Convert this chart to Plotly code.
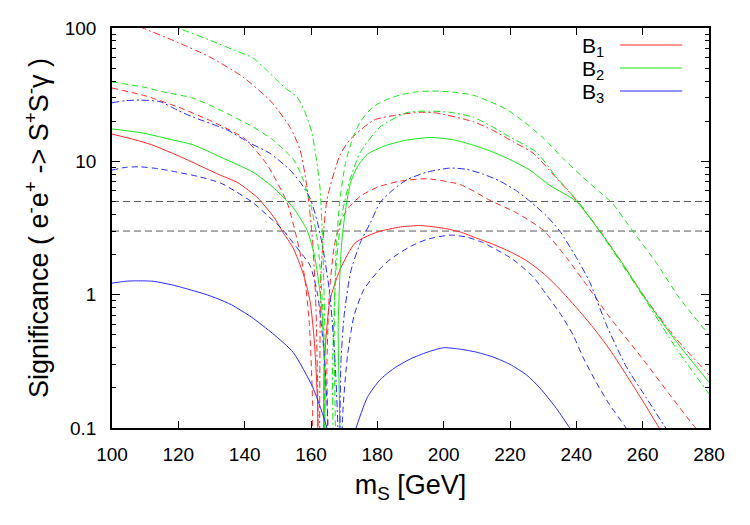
import plotly.graph_objects as go

# ---------------- data ----------------
thresholds = [5, 3]
x_range = [100, 280]

# B1 (red)
x_b1_solid = [100, 107, 112, 120, 126, 132, 138, 144, 149, 151.3, 154.6, 157.6, 159.7, 161, 162, 162.6, 163.2, 164, 165.7, 168.7, 173.3, 180, 187, 193, 200, 205, 210, 215, 220, 225, 230, 235, 240, 245, 250, 256, 260, 265, 270]
y_b1_solid = [16, 14.5, 13.3, 11, 9.4, 8.0, 6.9, 5.3, 3.75, 3.0, 2.24, 1.45, 0.9, 0.45, 0.15, 0.01, 0.01, 0.3, 0.9, 1.53, 2.44, 2.95, 3.22, 3.3, 3.15, 2.95, 2.65, 2.38, 2.1, 1.8, 1.45, 1.1, 0.8, 0.57, 0.39, 0.23, 0.16, 0.1, 0.065]

x_b1_dash = [100, 110, 120, 130, 140, 146.7, 152.8, 155.8, 158, 159.5, 160.5, 161, 164.3, 164.8, 165.5, 167, 169, 171.7, 175, 180, 186.8, 195, 205, 214, 222, 230, 237, 244, 250, 260, 268, 276, 280]
y_b1_dash = [35.5, 31, 25.5, 20, 14.8, 9.5, 4.9, 2.6, 1.4, 0.6, 0.15, 0.01, 0.01, 0.3, 1.0, 2.3, 3.6, 4.6, 5.5, 6.4, 7.1, 7.4, 6.7, 5.1, 4.1, 3.05, 1.9, 1.1, 0.68, 0.33, 0.18, 0.1, 0.08]

x_b1_dashdot = [100, 109.3, 119.6, 129.5, 139.5, 148, 153.7, 156.7, 158.8, 160.5, 161.5, 162, 162.5, 163, 164.8, 168.7, 171.7, 179, 187, 193, 198, 209, 215, 221, 227, 234, 240, 247, 254, 261, 270, 280]
y_b1_dashdot = [125, 100, 78.5, 60.6, 42.9, 28, 18, 12.2, 6.4, 2.5, 0.8, 0.2, 0.01, 1.4, 5.1, 11.1, 14.5, 20.4, 22.5, 23.3, 23, 19.8, 17, 14, 11.5, 7.5, 5.1, 3.05, 1.7, 0.93, 0.47, 0.25]

# B2 (green)
x_b2_solid = [100, 109.3, 116.6, 124.4, 132.6, 142.5, 148.5, 154.6, 158.8, 161, 163, 164.3, 164.8, 167.8, 168.2, 169, 169.6, 170.8, 172, 174, 177, 182, 188, 196, 203, 209, 215, 220, 226, 232, 240, 247, 254, 261, 270, 280]
y_b2_solid = [17.5, 16.3, 14.8, 13.3, 10.8, 8.3, 6.4, 4.5, 3.05, 2.0, 0.9, 0.25, 0.01, 0.01, 0.6, 2.0, 3.0, 5.0, 7.0, 9.1, 11.3, 13.0, 14.3, 15.1, 14.5, 13.2, 11.7, 10.3, 8.6, 6.6, 5.0, 3.0, 1.7, 0.92, 0.45, 0.22]

x_b2_dash = [100, 109.3, 116, 124.4, 132.6, 142.5, 148.5, 154.6, 157, 159.7, 162, 163.5, 164.2, 164.5, 166.5, 167, 167.5, 168.7, 170.5, 172.7, 175, 178.7, 182, 186.8, 191, 196, 202, 208.8, 214, 219, 224, 230, 236, 242, 247, 251, 257, 264, 271, 280]
y_b2_dash = [39.4, 36.1, 33, 29.8, 24.3, 18.1, 14.5, 10.4, 8.0, 5.0, 2.5, 0.8, 0.1, 0.01, 0.01, 0.5, 2, 5.1, 10, 15.2, 20, 25.6, 28.5, 31.4, 33, 33.7, 33.2, 31.4, 28, 24.5, 20, 15, 10.5, 7.6, 5.9, 4.8, 3.0, 1.75, 0.95, 0.5]

x_b2_dashdot = [100, 110, 119.9, 129.5, 137, 142.5, 146, 149.7, 152.5, 155.8, 158, 160.3, 162.7, 163.5, 164.2, 164.5, 166, 166.5, 167.5, 169, 171.7, 174.8, 180.8, 188.9, 195.9, 202, 208.8, 215, 220, 228, 234, 240.5, 247, 254, 261, 270, 280]
y_b2_dashdot = [150, 122, 100, 81, 68, 59.6, 50, 40.7, 35, 30.4, 24, 16.3, 6.4, 2.5, 0.5, 0.01, 0.01, 0.3, 1.5, 3.6, 7.2, 11.6, 18.1, 23.2, 23.8, 23.3, 21.5, 18, 15.2, 11.7, 7.6, 5.0, 3.0, 1.65, 0.9, 0.4, 0.18]

# B3 (blue)
x_b3_solid = [100, 104, 107.5, 112.4, 118.4, 124, 128, 132, 136, 142, 148.5, 154.6, 160.6, 164.8, 166.5, 168, 170, 172, 173.6, 177, 180.8, 185, 190, 195, 200, 205, 210, 215, 220, 225, 229, 234, 238, 242]
y_b3_solid = [1.22, 1.26, 1.27, 1.26, 1.18, 1.08, 1.01, 0.93, 0.84, 0.68, 0.51, 0.37, 0.2, 0.1, 0.05, 0.01, 0.03, 0.07, 0.1, 0.17, 0.23, 0.28, 0.33, 0.37, 0.4, 0.39, 0.37, 0.34, 0.3, 0.25, 0.2, 0.14, 0.1, 0.07]

x_b3_dash = [100, 104, 108.4, 114, 119.6, 126, 132.6, 137, 142.5, 147, 151.3, 156.7, 159.7, 162, 164, 165, 165.8, 168.5, 169.5, 171, 173, 176, 181, 184, 190, 195, 202, 207, 212, 217, 220, 222, 227, 231, 235, 239, 242, 246, 250, 255, 260]
y_b3_dash = [8.6, 9.0, 9.1, 8.8, 8.3, 7.7, 6.9, 6.0, 4.9, 3.9, 3.1, 2.1, 1.66, 1.0, 0.35, 0.12, 0.01, 0.01, 0.12, 0.35, 0.7, 1.1, 1.58, 1.85, 2.3, 2.6, 2.8, 2.7, 2.45, 2.1, 1.9, 1.75, 1.36, 1.0, 0.73, 0.5, 0.34, 0.22, 0.15, 0.1, 0.065]

x_b3_dashdot = [100, 104, 108.4, 114.5, 120, 124.4, 134.7, 141.6, 147.6, 153.7, 156.7, 159.7, 161.8, 163.5, 165.7, 167.3, 168.1, 168.4, 169, 170, 172, 175, 178, 180.8, 185, 189, 195, 202, 207, 212, 217, 222, 226.5, 231, 235, 240, 244, 249, 255, 261, 267, 272]
y_b3_dashdot = [27.5, 28.5, 28.8, 28, 24, 21.5, 17.2, 13.7, 11.5, 8.6, 7.0, 5.3, 3.6, 2.3, 1.0, 0.3, 0.1, 0.01, 0.3, 0.7, 1.5, 2.5, 3.5, 4.9, 6.2, 7.3, 8.3, 8.9, 8.7, 8.0, 7.1, 6.0, 4.9, 3.9, 3.0, 1.9, 1.25, 0.6, 0.29, 0.17, 0.1, 0.07]

legend_labels = ["B<sub>1</sub>", "B<sub>2</sub>", "B<sub>3</sub>"]
y_tick_vals = [0.1, 1, 10, 100]
y_tick_text = ["0.1", "1", "10", "100"]
x_tick_vals = [100, 120, 140, 160, 180, 200, 220, 240, 260, 280]

# ---------------- styles ----------------
RED = "rgb(255,40,40)"
GREEN = "rgb(20,230,20)"
BLUE = "rgb(40,40,255)"
FONT = "Liberation Sans, Arial, sans-serif"

curves = [
    (x_b1_solid, y_b1_solid, RED, "solid"),
    (x_b1_dash, y_b1_dash, RED, "6px,4px"),
    (x_b1_dashdot, y_b1_dashdot, RED, "7px,3px,2px,3px"),
    (x_b2_solid, y_b2_solid, GREEN, "solid"),
    (x_b2_dash, y_b2_dash, GREEN, "6px,4px"),
    (x_b2_dashdot, y_b2_dashdot, GREEN, "7px,3px,2px,3px"),
    (x_b3_solid, y_b3_solid, BLUE, "solid"),
    (x_b3_dash, y_b3_dash, BLUE, "6px,4px"),
    (x_b3_dashdot, y_b3_dashdot, BLUE, "7px,3px,2px,3px"),
]

fig = go.Figure()

for t in thresholds:
    fig.add_trace(go.Scatter(x=x_range, y=[t, t], mode="lines",
                             line=dict(color="rgb(90,90,90)", width=1, dash="7px,4px"),
                             showlegend=False, hoverinfo="skip"))

for xs, ys, col, dash in curves:
    fig.add_trace(go.Scatter(x=xs, y=ys, mode="lines",
                             line=dict(color=col, width=1, dash=dash, shape="spline", smoothing=0.6),
                             showlegend=False))

# custom gnuplot-like key (text left of sample line)
key_colors = [RED, GREEN, BLUE]
key_y = [0.9575, 0.90, 0.8425]
for lab, col, yy in zip(legend_labels, key_colors, key_y):
    fig.add_annotation(x=0.827, y=yy - 0.006, xref="paper", yref="paper",
                       text=lab, showarrow=False, xanchor="right", yanchor="middle",
                       font=dict(family=FONT, size=21, color="black"))
    fig.add_shape(type="line", xref="paper", yref="paper",
                  x0=0.851, x1=0.955, y0=yy, y1=yy,
                  line=dict(color=col, width=1))

axis_common = dict(showline=True, linecolor="black", linewidth=1.5, mirror="allticks",
                   ticks="inside", tickcolor="black", showgrid=False, zeroline=False,
                   tickfont=dict(family=FONT, size=19, color="black"))

fig.update_xaxes(range=x_range, tickvals=x_tick_vals, ticklen=7, tickwidth=1,
                 ticklabelstandoff=8,
                 title=dict(text="m<sub>S</sub> [GeV]", font=dict(family=FONT, size=27, color="black"),
                            standoff=12),
                 **axis_common)
fig.update_yaxes(type="log", range=[-1, 2], tickvals=y_tick_vals, ticktext=y_tick_text,
                 ticklen=8, tickwidth=1, ticklabelstandoff=10,
                 minor=dict(ticks="inside", ticklen=4, tickcolor="black",
                            tickvals=[m * d for d in [0.1, 1, 10] for m in range(2, 10)]),
                 title=dict(text="Significance ( e<sup>-</sup>e<sup>+</sup> -> S<sup>+</sup>S<sup>-</sup>γ )",
                            font=dict(family=FONT, size=27, color="black"), standoff=8),
                 **axis_common)

fig.update_layout(width=750, height=525, plot_bgcolor="white", paper_bgcolor="white",
                  margin=dict(l=112, r=41, t=28, b=97), showlegend=False)

fig.write_html("out.html")
